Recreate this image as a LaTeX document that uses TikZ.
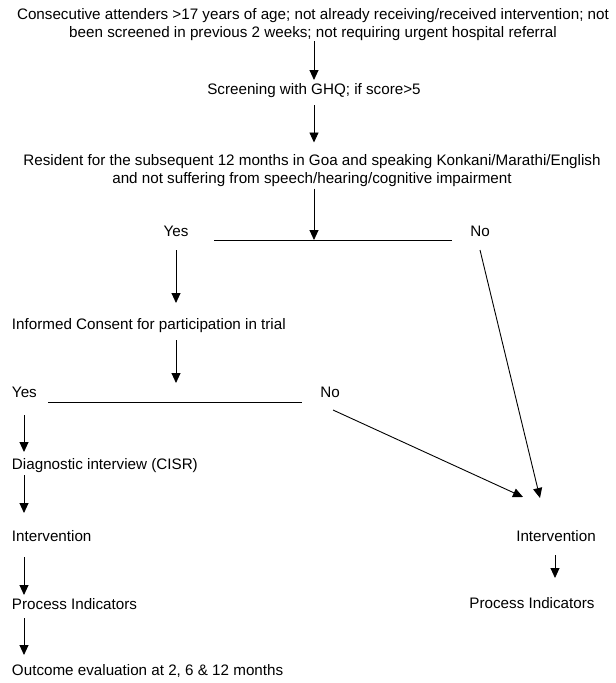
\documentclass[tikz,border=0pt]{standalone}
\usepackage{fontspec}
\setmainfont{Liberation Sans}
\usetikzlibrary{arrows.meta,calc}
\begin{document}
\begin{tikzpicture}[x=1pt,y=-1pt,
  every node/.style={inner sep=0pt,outer sep=0pt,font=\fontsize{15.2}{18}\selectfont},
  sl/.style={text height=11pt,text depth=3pt},
  ctext/.style={align=center,anchor=center},
  ltext/.style={sl,anchor=west},
  arr/.style={line width=0.9pt,-{Triangle[width=9pt,length=10pt]}},
  ln/.style={line width=0.9pt}]
\useasboundingbox (0,0) rectangle (616,683);
\node[ctext] (top) at (313,25) {Consecutive attenders >17 years of age; not already receiving/received intervention; not\\been screened in previous 2 weeks; not requiring urgent hospital referral};
\node[ctext,sl] (screen) at (314,90) {Screening with GHQ; if score>5};
\node[ctext] (res) at (312,170.5) {Resident for the subsequent 12 months in Goa and speaking Konkani/Marathi/English\\and not suffering from speech/hearing/cognitive impairment};
\node[ctext,sl] (yes1) at (176,232) {Yes};
\node[ctext,sl] (no1) at (480,232) {No};
\node[ltext] (consent) at (12,325) {Informed Consent for participation in trial};
\node[ltext] (yes2) at (12,393) {Yes};
\node[ctext,sl] (no2) at (330,393) {No};
\node[ltext] (diag) at (12,465) {Diagnostic interview (CISR)};
\node[ltext] (intL) at (12,537) {Intervention};
\node[ltext] (procL) at (12,605) {Process Indicators};
\node[ltext] (out) at (12,671) {Outcome evaluation at 2, 6 \& 12 months};
\node[ctext,sl] (intR) at (556,537) {Intervention};
\node[ctext,sl] (procR) at (532,604) {Process Indicators};
% junction lines
\coordinate (h1a) at (214,240);
\coordinate (h1b) at (452,240);
\coordinate (h1m) at (314,240);
\coordinate (h2a) at (48,402);
\coordinate (h2b) at (302,402);
\coordinate (tipA) at (540,498);
\coordinate (tipB) at (523,497);
\coordinate (colL) at (24,0);
\coordinate (colM) at (176,0);
\coordinate (colC) at (314,0);
\draw[ln] (h1a) -- (h1b);
\draw[ln] (h2a) -- (h2b);
% arrows
\draw[arr] (colC |- 0,41) -- ($(colC |- screen.center)+(0,-10)$);
\draw[arr] ($(colC |- screen.center)+(0,15)$) -- ($(colC |- res.center)+(0,-28)$);
\draw[arr] ($(colC |- res.center)+(0,18)$) -- (h1m);
\draw[arr] ($(yes1.center)+(0,18)$) -- ($(colM |- consent.center)+(0,-22)$);
\draw[arr] ($(colM |- consent.center)+(0,15)$) -- ($(colM |- yes2.center)+(0,-10)$);
\draw[arr] ($(colL |- yes2.center)+(0,22)$) -- ($(colL |- diag.center)+(0,-13)$);
\draw[arr] ($(colL |- diag.center)+(0,10)$) -- ($(colL |- intL.center)+(0,-24)$);
\draw[arr] ($(colL |- intL.center)+(0,20)$) -- ($(colL |- procL.center)+(0,-10)$);
\draw[arr] ($(colL |- procL.center)+(0,13)$) -- ($(colL |- out.center)+(0,-16)$);
\draw[arr] ($(intR.center)+(-1,18)$) -- ($(intR.center)+(-1,41)$);
\draw[arr] ($(no1.center)+(0,18)$) -- (tipA);
\draw[arr] ($(no2.center)+(3,17)$) -- (tipB);
\end{tikzpicture}
\end{document}
